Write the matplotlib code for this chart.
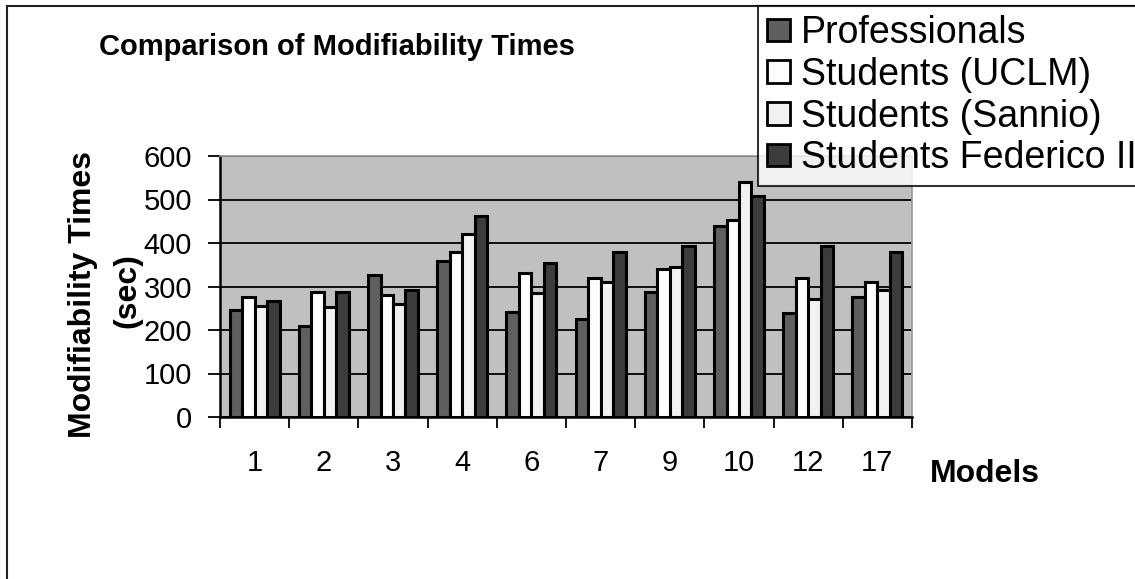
import matplotlib
matplotlib.use("Agg")
import matplotlib.pyplot as plt
import numpy as np
from matplotlib.lines import Line2D

plt.rcParams['font.family'] = ['Liberation Sans', 'DejaVu Sans']

models = ['1', '2', '3', '4', '6', '7', '9', '10', '12', '17']
professionals = [247, 210, 326, 359, 241, 225, 287, 440, 240, 275]
students_uclm = [276, 288, 280, 380, 332, 320, 341, 453, 320, 310]
students_sannio = [256, 253, 260, 421, 286, 310, 345, 540, 272, 292]
students_federico = [267, 288, 293, 462, 353, 380, 392, 507, 392, 380]

series = [
    ('Professionals', professionals, '#5f5f5f'),
    ('Students (UCLM)', students_uclm, '#fdfdfd'),
    ('Students (Sannio)', students_sannio, '#f2f2f2'),
    ('Students Federico II', students_federico, '#3c3c3c'),
]

W, H = 1135, 579
fig = plt.figure(figsize=(W / 100, H / 100), dpi=100)
ax = fig.add_axes([220 / W, 1 - 417 / H, (912 - 220) / W, (417 - 156) / H])
ax.set_facecolor('#c0c0c0')

x = np.arange(len(models))
bw = 0.18
for i, (name, vals, col) in enumerate(series):
    ax.bar(x + (i - 1.5) * bw, vals, bw, color=col, edgecolor='black',
           linewidth=2.2, label=name, zorder=3)

ax.set_xlim(-0.5, len(models) - 0.5)
ax.set_ylim(0, 600)
ax.set_yticks(range(0, 601, 100))
ax.yaxis.grid(True, color='black', linewidth=1.3, zorder=1)
ax.set_axisbelow(True)

# ticks at category boundaries, labels centred
ax.set_xticks(np.arange(-0.5, len(models), 1.0))
ax.set_xticklabels([])
ax.set_xticks(x, minor=True)
ax.set_xticklabels(models, minor=True, fontsize=21)
ax.tick_params(axis='x', which='minor', length=0, pad=23)
ax.tick_params(axis='x', which='major', length=8, width=1.3, direction='out')
ax.tick_params(axis='y', length=9, width=1.3, direction='out', labelsize=21, pad=11)

for s in ['left', 'bottom']:
    ax.spines[s].set_linewidth(1.8)
    ax.spines[s].set_color('black')
for s in ['top', 'right']:
    ax.spines[s].set_linewidth(1.2)
    ax.spines[s].set_color('#9a9a9a')

fig.text(99 / W, 1 - 55 / H, 'Comparison of Modifiability Times', fontsize=21,
         fontweight='bold', ha='left', va='baseline')
fig.text(83 / W, 1 - 295 / H, 'Modifiability Times', fontsize=23, fontweight='bold',
         rotation=90, ha='center', va='center')
fig.text(127 / W, 1 - 291 / H, '(sec)', fontsize=23, fontweight='bold',
         rotation=90, ha='center', va='center')
fig.text(930 / W, 1 - 474 / H, 'Models', fontsize=23, fontweight='bold',
         ha='left', va='center')

# legend runs past the right edge, as in the original
leg = fig.legend(loc='upper left', bbox_to_anchor=(758 / W, 1 - 6 / H),
                 fontsize=27, frameon=True, fancybox=False, borderpad=0.25,
                 handlelength=0.6, handleheight=0.55, handletextpad=0.3,
                 labelspacing=0.15, borderaxespad=0)
leg.get_frame().set_edgecolor('black')
leg.get_frame().set_linewidth(1.5)
for h in leg.legend_handles:
    h.set_linewidth(2.0)

# outer frame (left and top only visible)
fig.add_artist(Line2D([7 / W, 7 / W], [0, 1 - 6 / H], color='#222222', linewidth=1.5))
fig.add_artist(Line2D([7 / W, 1], [1 - 6 / H, 1 - 6 / H], color='#222222', linewidth=1.5))

fig.savefig('out.png', dpi=100)
